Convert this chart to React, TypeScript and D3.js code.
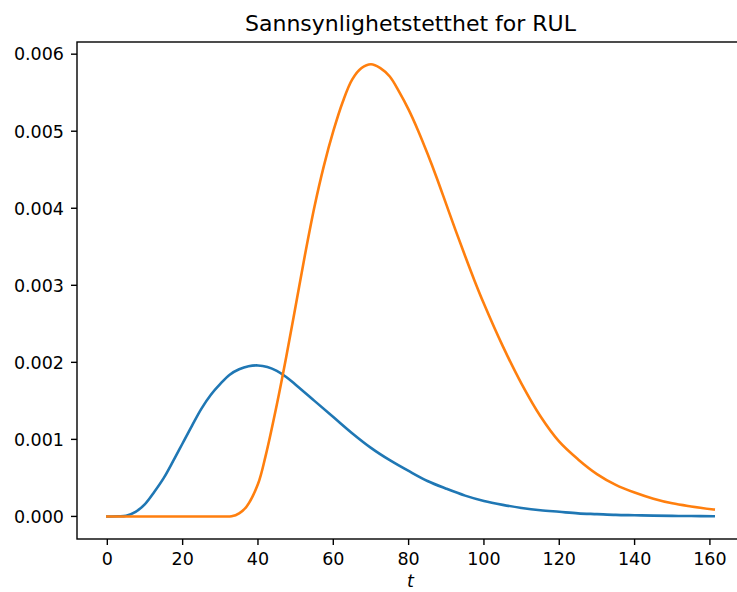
import React, { useEffect, useRef } from "react";
import * as d3 from "d3";

// values
const blueT = [0, 3, 5, 7.5, 10, 12.5, 15, 17.5, 20, 22.5, 25, 27.5, 30, 32.5, 35, 37.5, 40, 42.5, 45, 47.5, 50, 55, 60, 65, 70, 75, 80, 85, 90, 95, 100, 105, 110, 115, 120, 125, 130, 135, 140, 145, 150, 155, 161];
const blueV = [0, 0.000002, 0.00001, 0.00006, 0.00016, 0.00032, 0.0005, 0.00072, 0.00095, 0.00118, 0.0014, 0.00158, 0.00172, 0.00184, 0.00191, 0.00195, 0.00196, 0.00194, 0.00189, 0.00181, 0.00171, 0.0015, 0.00129, 0.00108, 0.00089, 0.00073, 0.00059, 0.00046, 0.00036, 0.00027, 0.0002, 0.00015, 0.00011, 0.00008, 0.00006, 0.00004, 0.00003, 0.00002, 0.000015, 0.00001, 0.000007, 0.000005, 0.000003];

const orangeT = [0, 10, 20, 30, 33, 35, 37, 40, 42, 45, 47.5, 50, 52.5, 55, 57.5, 60, 62.5, 65, 67.5, 70, 72.5, 75, 77.5, 80, 82.5, 85, 87.5, 90, 92.5, 95, 97.5, 100, 105, 110, 115, 120, 125, 130, 135, 140, 145, 150, 155, 161];
const orangeV = [0, 0, 0, 0, 0.000002, 0.00004, 0.00013, 0.00042, 0.00078, 0.00145, 0.00207, 0.00273, 0.0034, 0.00402, 0.00455, 0.005, 0.00538, 0.00567, 0.00582, 0.00587, 0.00582, 0.00571, 0.00551, 0.00528, 0.00501, 0.00471, 0.00439, 0.00405, 0.00371, 0.00338, 0.00306, 0.00276, 0.00221, 0.00172, 0.0013, 0.00097, 0.00074, 0.00055, 0.00041, 0.00031, 0.00023, 0.00017, 0.00013, 0.00009];

const xTicks = [0, 20, 40, 60, 80, 100, 120, 140, 160];
const yTicks = [0, 0.001, 0.002, 0.003, 0.004, 0.005, 0.006];

const App = () => {
    const svgRef = useRef<SVGSVGElement>(null);

    useEffect(() => {
        const svg = d3.select(svgRef.current);
        svg.selectAll("*").remove();

        const width = 737;
        const height = 592;
        const box = { left: 77, right: 744, top: 42, bottom: 539 };
        const font = "DejaVu Sans, sans-serif";
        const tickLen = 6;
        const fs = 17.5;

        const x = d3.scaleLinear().domain([-8.05, 169.05]).range([box.left, box.right]);
        const y = d3.scaleLinear().domain([-0.000293, 0.006158]).range([box.bottom, box.top]);

        svg.attr("width", width).attr("height", height);

        const line = d3
            .line<[number, number]>()
            .x((d) => x(d[0]))
            .y((d) => y(d[1]))
            .curve(d3.curveCatmullRom.alpha(0.5));

        const series = [
            { t: blueT, v: blueV, color: "#1f77b4" },
            { t: orangeT, v: orangeV, color: "#ff7f0e" },
        ];

        svg
            .selectAll(".curve")
            .data(series)
            .join("path")
            .attr("class", "curve")
            .attr("d", (s) => line(s.t.map((t, i) => [t, s.v[i]] as [number, number])))
            .attr("fill", "none")
            .attr("stroke", (s) => s.color)
            .attr("stroke-width", 2.6)
            .attr("stroke-linejoin", "round")
            .attr("stroke-linecap", "square");

        // frame
        svg
            .append("rect")
            .attr("x", box.left)
            .attr("y", box.top)
            .attr("width", box.right - box.left)
            .attr("height", box.bottom - box.top)
            .attr("fill", "none")
            .attr("stroke", "black")
            .attr("stroke-width", 1.4);

        // x axis
        const xg = svg.append("g").attr("transform", `translate(0,${box.bottom})`);
        xg.selectAll("line")
            .data(xTicks)
            .join("line")
            .attr("x1", (d) => x(d))
            .attr("x2", (d) => x(d))
            .attr("y1", 0)
            .attr("y2", tickLen)
            .attr("stroke", "black")
            .attr("stroke-width", 1.4);
        xg.selectAll("text")
            .data(xTicks)
            .join("text")
            .attr("x", (d) => x(d))
            .attr("y", 26)
            .attr("text-anchor", "middle")
            .attr("font-family", font)
            .attr("font-size", fs)
            .text((d) => d);

        // y axis
        const yg = svg.append("g").attr("transform", `translate(${box.left},0)`);
        yg.selectAll("line")
            .data(yTicks)
            .join("line")
            .attr("x1", -tickLen)
            .attr("x2", 0)
            .attr("y1", (d) => y(d))
            .attr("y2", (d) => y(d))
            .attr("stroke", "black")
            .attr("stroke-width", 1.4);
        yg.selectAll("text")
            .data(yTicks)
            .join("text")
            .attr("x", -13)
            .attr("y", (d) => y(d) + 6.3)
            .attr("text-anchor", "end")
            .attr("font-family", font)
            .attr("font-size", fs)
            .text((d) => d3.format(".3f")(d));

        // labels
        svg
            .append("text")
            .attr("x", (box.left + box.right) / 2)
            .attr("y", 587)
            .attr("text-anchor", "middle")
            .attr("font-family", font)
            .attr("font-size", fs)
            .attr("font-style", "italic")
            .text("t");

        svg
            .append("text")
            .attr("x", (box.left + box.right) / 2)
            .attr("y", 31)
            .attr("text-anchor", "middle")
            .attr("font-family", font)
            .attr("font-size", 22)
            .text("Sannsynlighetstetthet for RUL");
    }, []);

    return <svg ref={svgRef} style={{ position: "absolute", left: 0, top: 0, background: "white" }}></svg>;
};

export default App;
